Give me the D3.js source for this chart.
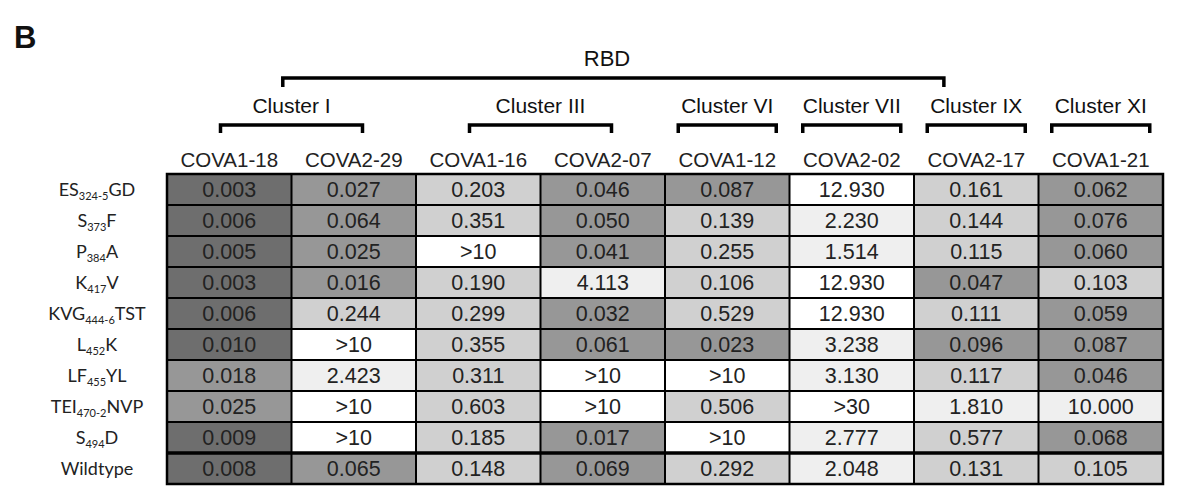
<!DOCTYPE html>
<html>
<head>
<meta charset="utf-8">
<script src="https://cdn.jsdelivr.net/npm/d3@7.9.0/dist/d3.min.js"></script>
<style>
  body { margin: 0; background: #fff; }
  svg { display: block; }
</style>
</head>
<body>
<svg id="chart" width="1200" height="489"></svg>
<script>
// antibodies (columns) and mutants (rows)
const antibodies = ["COVA1-18", "COVA2-29", "COVA1-16", "COVA2-07", "COVA1-12", "COVA2-02", "COVA2-17", "COVA1-21"];

// cluster groups: name, first column, last column
const clusterNames = ["Cluster I", "Cluster III", "Cluster VI", "Cluster VII", "Cluster IX", "Cluster XI"];
const clusterSpans = [[0, 1], [2, 3], [4, 4], [5, 5], [6, 6], [7, 7]];
const domainName = "RBD";
const domainSpan = [0, 6];

// mutant labels: [prefix, subscript, suffix]
const mutants = [
    ["ES", "324-5", "GD"],
    ["S", "373", "F"],
    ["P", "384", "A"],
    ["K", "417", "V"],
    ["KVG", "444-6", "TST"],
    ["L", "452", "K"],
    ["LF", "455", "YL"],
    ["TEI", "470-2", "NVP"],
    ["S", "494", "D"],
    ["Wildtype", "", ""]
];

// IC50 values, one row per mutant, in antibody order
const ic50 = [
    ["0.003", "0.027", "0.203", "0.046", "0.087", "12.930", "0.161", "0.062"],
    ["0.006", "0.064", "0.351", "0.050", "0.139", "2.230", "0.144", "0.076"],
    ["0.005", "0.025", ">10", "0.041", "0.255", "1.514", "0.115", "0.060"],
    ["0.003", "0.016", "0.190", "4.113", "0.106", "12.930", "0.047", "0.103"],
    ["0.006", "0.244", "0.299", "0.032", "0.529", "12.930", "0.111", "0.059"],
    ["0.010", ">10", "0.355", "0.061", "0.023", "3.238", "0.096", "0.087"],
    ["0.018", "2.423", "0.311", ">10", ">10", "3.130", "0.117", "0.046"],
    ["0.025", ">10", "0.603", ">10", "0.506", ">30", "1.810", "10.000"],
    ["0.009", ">10", "0.185", "0.017", ">10", "2.777", "0.577", "0.068"],
    ["0.008", "0.065", "0.148", "0.069", "0.292", "2.048", "0.131", "0.105"]
];

const svg = d3.select("#chart");
const rowIds = mutants.map(m => m.join(""));

const x = d3.scaleBand().domain(antibodies).range([167, 1163]);
const y = d3.scaleBand().domain(rowIds).range([174, 484]);

// grey shading by IC50 bin
const shade = d3.scaleThreshold()
    .domain([0.011, 0.1, 1, 10.5])
    .range(["#6e6e6e", "#979797", "#d0d0d0", "#efefef", "#ffffff"]);

const toNumber = s => s.startsWith(">") ? Infinity : +s;

const cells = [];
ic50.forEach((row, i) => {
    row.forEach((v, j) => {
        cells.push({ row: rowIds[i], col: antibodies[j], label: v, value: toNumber(v) });
    });
});

// cells
svg.append("g")
    .selectAll("rect")
    .data(cells)
    .join("rect")
    .attr("x", d => x(d.col))
    .attr("y", d => y(d.row))
    .attr("width", x.bandwidth())
    .attr("height", y.bandwidth())
    .attr("fill", d => shade(d.value));

svg.append("g")
    .selectAll("text")
    .data(cells)
    .join("text")
    .attr("x", d => x(d.col) + x.bandwidth() / 2)
    .attr("y", d => y(d.row) + y.bandwidth() / 2 + 7.5)
    .attr("text-anchor", "middle")
    .attr("font-family", "Liberation Sans, Arial, sans-serif")
    .attr("font-size", 21.5)
    .attr("fill", "#222")
    .text(d => d.label);

// grid lines
const grid = svg.append("g").attr("stroke", "#000");
antibodies.slice(1).forEach(a => {
    grid.append("line")
        .attr("x1", x(a)).attr("x2", x(a))
        .attr("y1", y.range()[0]).attr("y2", y.range()[1])
        .attr("stroke-width", 2);
});
rowIds.slice(1).forEach((r, i) => {
    grid.append("line")
        .attr("x1", x.range()[0]).attr("x2", x.range()[1])
        .attr("y1", y(r)).attr("y2", y(r))
        .attr("stroke-width", i === rowIds.length - 2 ? 3.5 : 2);
});
grid.append("rect")
    .attr("x", x.range()[0]).attr("y", y.range()[0])
    .attr("width", x.range()[1] - x.range()[0])
    .attr("height", y.range()[1] - y.range()[0])
    .attr("fill", "none")
    .attr("stroke-width", 2.5);

// column headers
svg.append("g")
    .selectAll("text")
    .data(antibodies)
    .join("text")
    .attr("x", d => x(d) + x.bandwidth() / 2)
    .attr("y", 167)
    .attr("text-anchor", "middle")
    .attr("font-family", "Liberation Sans, Arial, sans-serif")
    .attr("font-size", 20.5)
    .attr("fill", "#222")
    .text(d => d);

// row labels with subscripts
const rowLabels = svg.append("g")
    .selectAll("text")
    .data(mutants)
    .join("text")
    .attr("x", 97)
    .attr("y", (d, i) => y(rowIds[i]) + y.bandwidth() / 2 + 6)
    .attr("text-anchor", "middle")
    .attr("font-family", "Lato, sans-serif")
    .attr("font-size", 18)
    .attr("fill", "#222");
rowLabels.append("tspan").text(d => d[0]);
rowLabels.append("tspan")
    .attr("font-size", 11)
    .attr("dy", 4)
    .text(d => d[1]);
rowLabels.append("tspan")
    .attr("dy", d => d[1] ? -4 : 0)
    .text(d => d[2]);

// brackets
function bracket(x1, x2, yLine, tick) {
    svg.append("path")
        .attr("d", `M${x1},${yLine + tick}V${yLine}H${x2}V${yLine + tick}`)
        .attr("fill", "none")
        .attr("stroke", "#000")
        .attr("stroke-width", 3.5);
}

clusterNames.forEach((name, i) => {
    const [a, b] = clusterSpans[i];
    const left = x(antibodies[a]);
    const right = x(antibodies[b]) + x.bandwidth();
    const mid = (left + right) / 2;
    const half = a === b ? 49 : 71;
    bracket(mid - half, mid + half, 125, 8);
    svg.append("text")
        .attr("x", mid)
        .attr("y", 113)
        .attr("text-anchor", "middle")
        .attr("font-family", "Liberation Sans, Arial, sans-serif")
        .attr("font-size", 21)
        .attr("fill", "#111")
        .text(name);
});

const dLeft = x(antibodies[domainSpan[0]]) + x.bandwidth() * 0.93;
const dRight = x(antibodies[domainSpan[1]]) + x.bandwidth() * 0.24;
bracket(dLeft, dRight, 78, 9);
svg.append("text")
    .attr("x", 607)
    .attr("y", 66)
    .attr("text-anchor", "middle")
    .attr("font-family", "Liberation Sans, Arial, sans-serif")
    .attr("font-size", 22)
    .attr("fill", "#111")
    .text(domainName);

// panel letter
svg.append("text")
    .attr("x", 14)
    .attr("y", 48)
    .attr("font-family", "Liberation Sans, Arial, sans-serif")
    .attr("font-weight", "bold")
    .attr("font-size", 31)
    .attr("fill", "#111")
    .text("B");
</script>
</body>
</html>
